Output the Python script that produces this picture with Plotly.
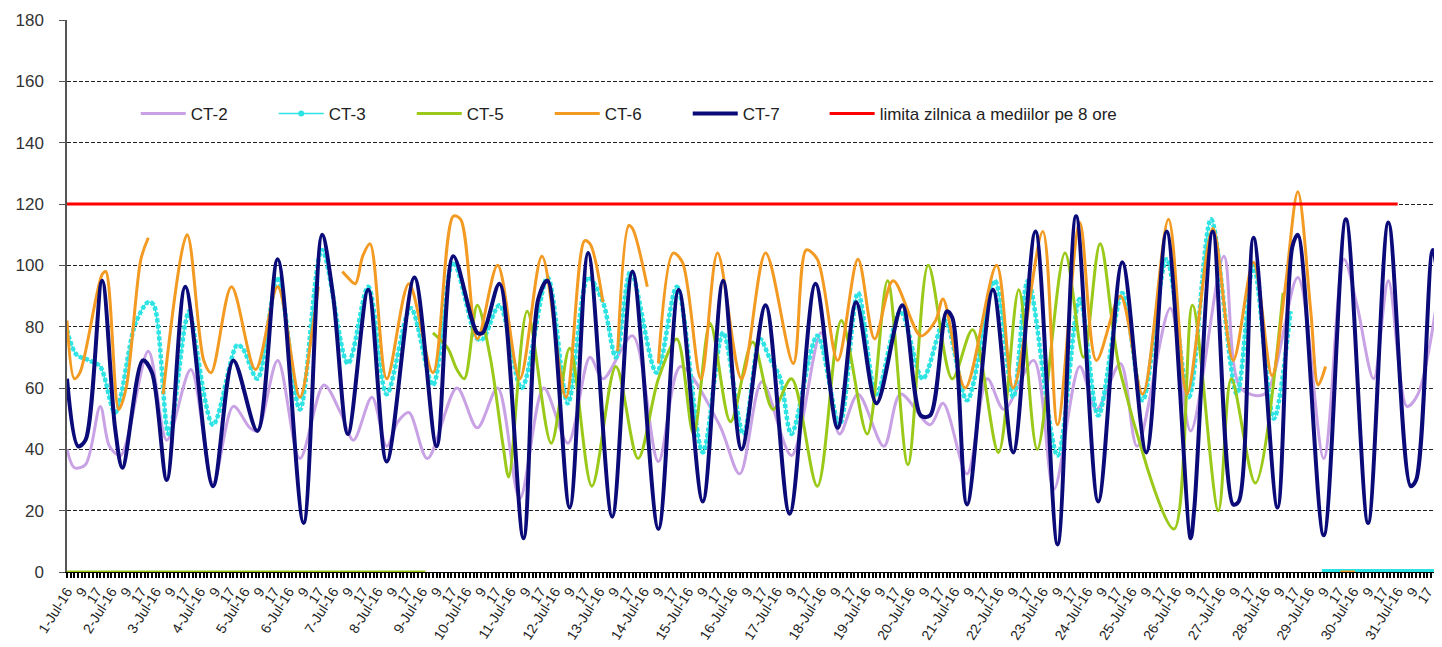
import plotly.graph_objects as go

# ---------------- data (hour index from 1-Jul-16 01:00, value in ug/m3) ----------------
days = list(range(1, 32))
hour_labels = ["9", "17"]

ct2_hour = [0, 4, 10, 18, 23, 29, 44, 54, 67, 79, 90, 99, 103, 114, 126, 139, 148, 155, 165, 173,
            179, 185, 195, 211, 222, 233, 245, 258, 271, 283, 290, 306, 320, 332, 353, 364, 376, 392, 408, 418,
            428, 442, 451, 467, 474, 487, 498, 507, 523, 534, 548, 557, 570, 579, 597, 608, 626, 635, 648, 666,
            680, 691, 698, 707, 715, 725, 731, 744]
ct2_value = [40, 34, 35, 54, 41, 38, 72, 43, 66, 29, 54, 47, 46, 69, 37, 61, 52, 43, 57, 41,
             49, 52, 37, 60, 47, 60, 24, 60, 42, 70, 63, 77, 36, 67, 48, 32, 62, 38, 78, 45,
             58, 41, 58, 48, 55, 32, 63, 53, 69, 27, 67, 53, 68, 41, 86, 46, 103, 60, 58, 96,
             37, 102, 87, 63, 95, 54, 58, 100]

ct3_hour = [0, 5, 12, 18, 26, 37, 44, 47, 55, 64, 66, 79, 92, 95, 103, 114, 126, 138, 152, 163,
            173, 186, 198, 209, 222, 225, 234, 246, 260, 271, 282, 290, 297, 305, 319, 330, 344, 355, 366, 375,
            380, 386, 392, 406, 418, 428, 438, 451, 463, 475, 487, 502, 512, 520, 536, 548, 558, 571, 582, 595,
            607, 619, 633, 642, 653, 662]
ct3_value = [79, 71, 69, 67, 52, 81, 88, 87, 45, 81, 85, 48, 74, 73, 63, 96, 53, 105, 68, 93,
             58, 86, 61, 101, 76, 76, 87, 60, 96, 55, 96, 88, 70, 98, 65, 93, 39, 78, 45, 76,
             70, 63, 45, 77, 48, 91, 58, 85, 63, 82, 56, 95, 57, 95, 38, 89, 51, 91, 56, 102,
             57, 115, 58, 100, 50, 85]
ct3_zero_hour = [679, 744]
ct3_zero_value = [0, 0]

ct5_zero_hour = [0, 194]
ct5_zero_value = [0, 0]
ct5_hour = [198, 206, 211, 215, 222, 229, 236, 239, 249, 262, 272, 284, 297, 309, 320, 330, 339, 348, 359, 371,
            382, 392, 406, 419, 433, 444, 455, 466, 479, 490, 504, 515, 525, 540, 550, 559, 570, 599, 609, 623,
            630, 643, 658]
ct5_value = [78, 73, 66, 63, 87, 70, 41, 31, 85, 42, 73, 28, 67, 37, 63, 76, 45, 81, 49, 75,
             53, 63, 28, 82, 45, 95, 35, 100, 63, 79, 39, 92, 40, 104, 70, 107, 65, 14, 87, 20,
             63, 29, 91]

# None marks gaps in the CT-6 record
ct6_hour = [0, 4, 7, 19, 21, 28, 32, 40, 44, None,
            52, 65, 74, 78, 89, 102, 114, 126, 133, 136, None,
            149, 152, 156, 160, 164, 173, 185, 198, 209, 213, 222, 233, 245, 257, 270, 280, 283, 290, None,
            298, 304, 306, 314, None,
            320, 328, 333, 343, 352, 365, 378, 393, 400, 406, 417, 428, 437, 447, 462, 470, 474, 486,
            503, 512, 528, 536, 548, 557, 570, 582, 596, 606, 620, 631, 642, 652, 659, 666, 673, 677, 681, None,
            689, 697]
ct6_value = [82, 63, 65, 97, 98, 53, 60, 102, 109, None,
             58, 110, 69, 65, 93, 66, 93, 57, 80, 93, None,
             98, 96, 94, 103, 107, 63, 94, 65, 116, 115, 76, 100, 63, 103, 57, 108, 107, 88, None,
             72, 113, 112, 93, None,
             68, 104, 101, 63, 104, 63, 104, 68, 105, 102, 69, 102, 76, 95, 77, 82, 89, 60,
             100, 60, 111, 48, 114, 69, 90, 58, 115, 58, 112, 69, 101, 64, 92, 124, 85, 61, 67, None,
             0, 0]

ct7_hour = [0, 6, 10, 19, 26, 30, 41, 46, 54, 64, 79, 90, 103, 114, 128, 138, 144, 152, 163, 173,
            188, 200, 209, 222, 225, 234, 247, 255, 260, 272, 282, 295, 306, 320, 331, 344, 355, 365, 378, 391,
            405, 417, 427, 438, 452, 462, 467, 476, 479, 487, 501, 512, 524, 536, 546, 558, 571, 584, 595, 608,
            610, 620, 631, 634, 642, 655, 663, 666, 680, 692, 704, 715, 727, 730, 739, 744]
ct7_value = [63, 41, 43, 95, 47, 34, 69, 65, 30, 93, 28, 69, 46, 102, 16, 110, 90, 45, 92, 36,
             96, 41, 103, 78, 78, 94, 11, 89, 95, 21, 104, 18, 98, 14, 92, 23, 95, 40, 87, 19,
             94, 47, 88, 55, 87, 51, 51, 85, 83, 22, 92, 39, 111, 9, 116, 23, 101, 39, 111, 11,
             21, 111, 22, 23, 109, 21, 106, 110, 12, 115, 16, 114, 28, 30, 105, 82]

limit_hour = [0, 720]
limit_value = [120, 120]

# ---------------- ticks: a mark every 2 hours, a label every 8 hours ----------------
tick_vals = []
tick_text = []
for i, d in enumerate(days):
    labels = [f"{d}-Jul-16"] + hour_labels
    for k in range(12):
        tick_vals.append(i * 24 + k * 2)
        tick_text.append(labels[k // 4] if k % 4 == 0 else "")

# ---------------- styles ----------------
C2 = "#C9A2E6"
C3 = "#2EE3E3"
C5 = "#9BC91A"
C6 = "#F39A22"
C7 = "#0A0A78"
CL = "#FF0000"
FONT = "Liberation Sans, Arial, sans-serif"
SM = 0.9

fig = go.Figure()


def line_trace(x, y, color, width, name, show=True, dash=None, smooth=SM):
    return go.Scatter(x=x, y=y, mode="lines", name=name, showlegend=show,
                      line=dict(color=color, width=width, shape="spline", smoothing=smooth, dash=dash),
                      connectgaps=False, hoverinfo="skip")


fig.add_trace(line_trace(ct2_hour, ct2_value, C2, 3, "CT-2"))
# CT-3: dense hourly markers rendered as a dotted band over a thin line
fig.add_trace(go.Scatter(x=[None], y=[None], mode="lines+markers", name="CT-3",
                         line=dict(color=C3, width=1.5), marker=dict(color=C3, size=6)))
fig.add_trace(line_trace(ct3_hour, ct3_value, C3, 1.5, "CT-3", show=False))
fig.add_trace(line_trace(ct3_hour, ct3_value, C3, 4.5, "CT-3", show=False, dash="4px,2px"))
fig.add_trace(line_trace(ct3_zero_hour, ct3_zero_value, C3, 6, "CT-3", show=False))
fig.add_trace(line_trace(ct5_hour, ct5_value, C5, 3, "CT-5"))
fig.add_trace(line_trace(ct5_zero_hour, ct5_zero_value, C5, 3, "CT-5", show=False))
fig.add_trace(line_trace(ct6_hour, ct6_value, C6, 3, "CT-6"))
fig.add_trace(line_trace(ct7_hour, ct7_value, C7, 4, "CT-7"))
fig.add_trace(go.Scatter(x=limit_hour, y=limit_value, mode="lines",
                         name="limita zilnica a mediilor pe 8 ore", legend="legend2",
                         line=dict(color=CL, width=3)))

# the page body adds an 8px offset, so the figure is sized to end at the window edges
fig.update_layout(
    width=1434, height=639,
    margin=dict(l=59, r=0, t=12, b=75, autoexpand=False),
    paper_bgcolor="white", plot_bgcolor="white",
    font=dict(family=FONT, size=17, color="#222222"),
    showlegend=True,
    legend=dict(orientation="h", x=0.050, y=0.83, xanchor="left", yanchor="middle",
                entrywidth=78, entrywidthmode="pixels", itemwidth=45,
                bgcolor="rgba(255,255,255,0)", font=dict(size=17, color="#222222")),
    legend2=dict(orientation="h", x=0.551, y=0.83, xanchor="left", yanchor="middle",
                 itemwidth=45,
                 bgcolor="rgba(255,255,255,0)", font=dict(size=17, color="#222222")),
    xaxis=dict(range=[0, 744], tickmode="array", tickvals=tick_vals, ticktext=tick_text,
               tickangle=-58, tickfont=dict(size=14, color="#222222"), automargin=False,
               ticks="outside", ticklen=5, tickwidth=2, tickcolor="black",
               showgrid=False, zeroline=False, showline=True, linecolor="black", linewidth=1),
    yaxis=dict(range=[0, 180], tickvals=[0, 20, 40, 60, 80, 100, 120, 140, 160, 180],
               tickfont=dict(size=17, color="#333333"), automargin=False,
               ticks="outside", ticklen=6, tickcolor="#555555", ticklabelstandoff=12,
               showgrid=True, gridcolor="#222222", gridwidth=1, griddash="4px,2px",
               zeroline=False, showline=True, linecolor="#555555", linewidth=1.5),
)

fig.write_html("out.html")
